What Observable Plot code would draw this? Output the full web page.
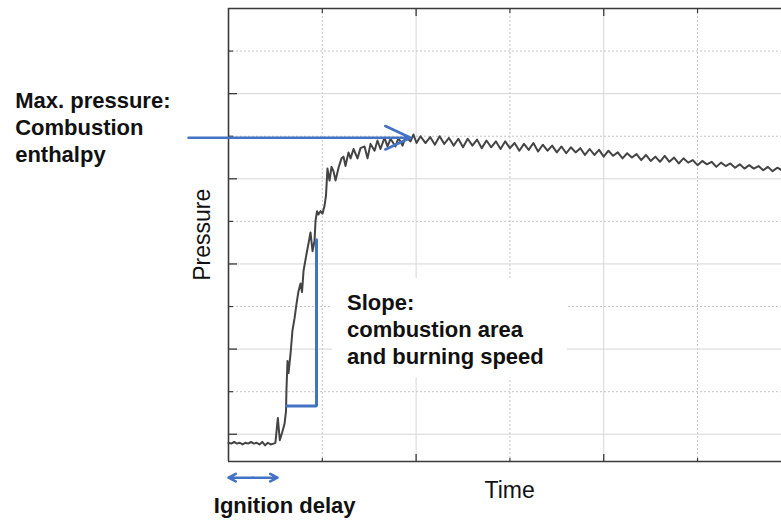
<!DOCTYPE html>
<html><head><meta charset="utf-8">
<script src="https://cdn.jsdelivr.net/npm/d3@7"></script>
<script src="https://cdn.jsdelivr.net/npm/@observablehq/plot@0.6"></script>
<style>html,body{margin:0;padding:0;background:#fff;} #chart svg{display:block;}</style>
</head><body><div id="chart"></div>
<script>
// Pressure trace (time in ms-like units, pressure in arbitrary units)
const time = [
  0.00,0.03,0.06,0.09,0.12,0.15,0.18,0.21,0.24,0.27,0.30,0.33,0.36,0.39,0.42,0.45,0.48,0.50,
  0.526,0.547,0.572,0.597,0.613,0.618,0.629,0.640,0.661,0.682,0.704,0.725,0.746,0.768,0.784,0.800,
  0.832,0.853,0.874,0.896,0.917,0.928,0.944,0.959,0.981,1.002,1.023,1.039,1.055,1.077,1.098,1.119,
  1.141,1.173,1.205,1.226,1.247,1.279,1.301,1.333,1.375,1.407,1.450,1.482,1.514,1.557,1.588,1.620,
  1.663,1.695,1.727,1.780,1.812,1.855,1.887,1.940,1.972,2.004,2.047,2.100,
  2.15,2.20,2.25,2.30,2.35,2.40,2.45,2.50,2.55,2.60,2.65,2.70,2.75,2.80,2.85,2.90,2.95,3.00,
  3.05,3.10,3.15,3.20,3.25,3.30,3.35,3.40,3.45,3.50,3.55,3.60,3.65,3.70,3.75,3.80,3.85,3.90,
  3.95,4.00,4.05,4.10,4.15,4.20,4.25,4.30,4.35,4.40,4.45,4.50,4.55,4.60,4.65,4.70,4.75,4.80,
  4.85,4.90,4.95,5.00,5.05,5.10,5.15,5.20,5.25,5.30,5.35,5.40,5.45,5.50,5.55,5.60,5.65,5.70,
  5.75,5.80,5.85,5.90
];
const pressure = [
  -0.10,-0.11,-0.09,-0.11,-0.10,-0.12,-0.10,-0.11,-0.09,-0.11,-0.10,-0.12,-0.09,-0.13,-0.10,-0.12,-0.11,-0.10,
  0.19,-0.07,0.02,0.12,0.27,0.53,0.86,0.72,0.94,1.22,1.36,1.53,1.68,1.77,1.67,1.92,
  2.12,2.24,2.37,2.15,2.27,2.51,2.62,2.58,2.62,2.59,2.68,2.80,3.12,2.98,3.14,3.09,
  2.98,3.13,3.24,3.26,3.15,3.31,3.24,3.35,3.24,3.36,3.38,3.24,3.41,3.33,3.45,3.35,
  3.48,3.38,3.47,3.38,3.48,3.39,3.49,3.44,3.52,3.42,3.50,3.42,
  3.49,3.40,3.50,3.41,3.48,3.39,3.47,3.37,3.47,3.39,3.46,3.36,3.45,3.37,3.44,3.35,3.44,3.36,
  3.42,3.33,3.41,3.34,3.42,3.32,3.40,3.33,3.39,3.31,3.38,3.30,3.37,3.31,3.36,3.28,3.35,3.28,
  3.34,3.26,3.33,3.27,3.31,3.24,3.30,3.25,3.29,3.22,3.28,3.21,3.26,3.20,3.27,3.20,3.25,3.18,
  3.24,3.19,3.22,3.16,3.21,3.17,3.20,3.14,3.19,3.15,3.18,3.13,3.17,3.12,3.16,3.12,3.15,3.10,
  3.14,3.09,3.13,3.10
];

// Scales and gridlines
const xDomain = [0, 5.895];
const yDomain = [-0.32, 5];
const xMajorTicks = [2, 4];
const xMinorTicks = [1, 3, 5];
const yMajorTicks = [0, 1, 2, 3, 4];
const yMinorTicks = [0.5, 1.5, 2.5, 3.5, 4.5];

// Annotations (in data coordinates)
const maxArrow = [{x1: -0.426, x2: 1.94, y: 3.482}];
const slopeBracket = [{t: 0.938, p: 2.283}, {t: 0.938, p: 0.333}, {t: 0.618, p: 0.333}];
const delayArrows = [{x1: 0.261, x2: 0.0, y: -0.51}, {x1: 0.261, x2: 0.522, y: -0.51}];
const slopeBox = [{x1: 1.109, x2: 3.614, y1: 0.662, y2: 1.828}];
const boldLabels = [
  {t: -2.274, p: 3.200, text: "Max. pressure:\nCombustion\nenthalpy"},
  {t: 1.263, p: 0.826, text: "Slope:\ncombustion area\nand burning speed"},
  {t: -0.157, p: -0.921, text: "Ignition delay"}
];
const axisLabels = [{t: 2.729, p: -0.745, text: "Time"}];
const yAxisLabel = [{t: -0.197, p: 2.342, text: "Pressure"}];

const trace = time.map((t, i) => ({t, p: pressure[i]}));
const FONT = "Liberation Sans, Arial, Helvetica, sans-serif";
const BLUE = "#4472C4";
const FRAME = "#3a3a3a";

const chart = Plot.plot({
  width: 781, height: 521,
  marginLeft: 228, marginRight: 0, marginTop: 8, marginBottom: 60,
  style: {fontFamily: FONT, background: "#fff", color: "#111"},
  x: {domain: xDomain, axis: null, label: null},
  y: {domain: yDomain, axis: null, label: null},
  marks: [
    Plot.ruleX(xMajorTicks, {stroke: "#d6d6d6", strokeWidth: 1}),
    Plot.ruleX(xMinorTicks, {stroke: "#c4c4c4", strokeWidth: 1, strokeDasharray: "2,2"}),
    Plot.ruleY(yMajorTicks, {stroke: "#d6d6d6", strokeWidth: 1}),
    Plot.ruleY(yMinorTicks, {stroke: "#c4c4c4", strokeWidth: 1, strokeDasharray: "2,2"}),
    Plot.rect(slopeBox, {x1: "x1", x2: "x2", y1: "y1", y2: "y2", fill: "#fff"}),
    // frame (left, top, bottom)
    Plot.ruleX([xDomain[0]], {stroke: FRAME, strokeWidth: 1.6}),
    Plot.ruleY([yDomain[1]], {stroke: FRAME, strokeWidth: 1.6}),
    Plot.ruleY([yDomain[0]], {stroke: FRAME, strokeWidth: 1.6}),
    // inward ticks
    Plot.axisY(yMajorTicks, {anchor: "left", tickSize: 9, dx: 9, fill: "none", label: null, stroke: FRAME, strokeWidth: 1.3}),
    Plot.axisY(yMinorTicks, {anchor: "left", tickSize: 5, dx: 5, fill: "none", label: null, stroke: FRAME, strokeWidth: 1.2}),
    Plot.axisX(xMajorTicks, {anchor: "top", tickSize: 7, dy: 7, fill: "none", label: null, stroke: FRAME, strokeWidth: 1.3}),
    Plot.axisX(xMinorTicks, {anchor: "top", tickSize: 4, dy: 4, fill: "none", label: null, stroke: FRAME, strokeWidth: 1.2}),
    Plot.axisX(xMajorTicks, {anchor: "bottom", tickSize: 7, dy: -7, fill: "none", label: null, stroke: FRAME, strokeWidth: 1.3}),
    Plot.axisX(xMinorTicks, {anchor: "bottom", tickSize: 3, dy: -3, fill: "none", label: null, stroke: FRAME, strokeWidth: 1.2}),
    // pressure trace
    Plot.line(trace, {x: "t", y: "p", stroke: "#444", strokeWidth: 2, strokeLinejoin: "round"}),
    // annotations
    Plot.arrow(maxArrow, {x1: "x1", x2: "x2", y1: "y", y2: "y", stroke: BLUE, strokeWidth: 2.6, headLength: 16, headAngle: 50}),
    Plot.line(slopeBracket, {x: "t", y: "p", stroke: BLUE, strokeWidth: 3, strokeLinejoin: "miter"}),
    Plot.arrow(delayArrows, {x1: "x1", x2: "x2", y1: "y", y2: "y", stroke: BLUE, strokeWidth: 2.6, headLength: 14, headAngle: 55}),
    Plot.text(boldLabels, {x: "t", y: "p", text: "text", textAnchor: "start", lineAnchor: "bottom", lineHeight: 1.23,
      fontSize: 22, fontWeight: "bold", fill: "#111", fontFamily: FONT}),
    Plot.text(axisLabels, {x: "t", y: "p", text: "text", textAnchor: "start", lineAnchor: "bottom",
      fontSize: 23, fill: "#111", fontFamily: FONT}),
    Plot.text(yAxisLabel, {x: "t", y: "p", text: "text", textAnchor: "middle", lineAnchor: "bottom", rotate: -90,
      fontSize: 23, fill: "#111", fontFamily: FONT})
  ]
});
document.getElementById("chart").appendChild(chart);
</script>
</body></html>
